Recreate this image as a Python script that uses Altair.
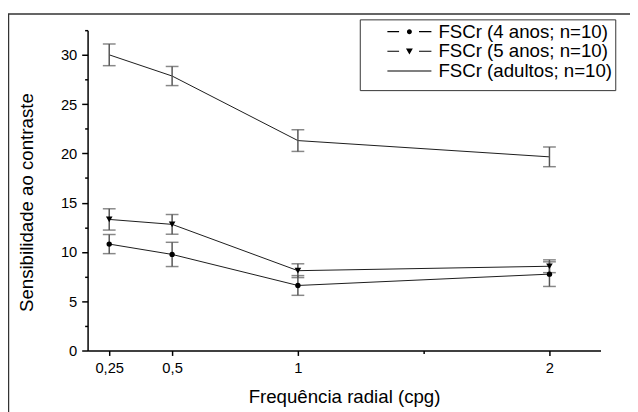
import altair as alt
import pandas as pd

freq = [0.25, 0.5, 1, 2]
series_names = ["FSCr (4 anos; n=10)", "FSCr (5 anos; n=10)", "FSCr (adultos; n=10)"]
mean_4 = [10.8, 9.75, 6.6, 7.75]
err_4 = [0.97, 1.23, 1.0, 1.25]
mean_5 = [13.3, 12.8, 8.1, 8.55]
err_5 = [1.08, 1.0, 0.7, 0.65]
mean_ad = [30.0, 27.85, 21.3, 19.65]
err_ad = [1.1, 0.97, 1.1, 1.0]

x_ticks = [0.25, 0.5, 1, 2]
x_minor = [1.5]
y_ticks = [0, 5, 10, 15, 20, 25, 30]
y_minor = [2.5, 7.5, 12.5, 17.5, 22.5, 27.5, 32.5]

rows = []
for name, means, errs in zip(series_names, [mean_4, mean_5, mean_ad], [err_4, err_5, err_ad]):
    for f, m, e in zip(freq, means, errs):
        rows.append({"series": name, "freq": f, "mean": m, "lo": m - e, "hi": m + e})
df = pd.DataFrame(rows)

FONT = "Liberation Sans"
xscale = alt.Scale(domain=[0.164, 2.203], nice=False, zero=False)
yscale = alt.Scale(domain=[0, 32.5], nice=False, zero=False)

base = alt.Chart(df)

frame = alt.Chart(pd.DataFrame({"a": [0]})).mark_rect(
    fillOpacity=0, stroke="#333333", strokeWidth=1.5
).encode(x=alt.value(-80.5), x2=alt.value(560), y=alt.value(-16.5), y2=alt.value(400))

lines = base.mark_line(color="#1a1a1a", strokeWidth=1).encode(
    x=alt.X("freq:Q", scale=xscale, axis=alt.Axis(
        values=x_ticks, orient="bottom", grid=False,
        labelExpr="replace(toString(datum.value), '.', ',')",
        title="Frequência radial (cpg)", tickSize=5, labelPadding=5,
        labelFontSize=15, titleFontSize=19, titleFontWeight="normal",
        titleX=261, titleY=53, titleBaseline="alphabetic", titleAlign="center",
    )),
    y=alt.Y("mean:Q", scale=yscale, axis=alt.Axis(
        values=y_ticks, orient="left", grid=False,
        title="Sensibilidade ao contraste", tickSize=6, labelPadding=5,
        labelFontSize=15, titleFontSize=19, titleFontWeight="normal",
        titleX=-56, titleY=175, titleBaseline="alphabetic", titleAlign="center",
        titleAngle=270,
    )),
    detail="series:N",
)

minor = base.mark_rule(color="#555555", strokeWidth=1.5).encode(
    x=alt.X("freq:Q", scale=xscale, axis=alt.Axis(
        values=x_minor, orient="bottom", labels=False, domain=False, grid=False,
        title="", tickSize=3,
    )),
    y=alt.Y("lo:Q", scale=yscale, axis=alt.Axis(
        values=y_minor, orient="left", labels=False, domain=False, grid=False,
        title="", tickSize=3,
    )),
    y2="hi:Q",
)

cap_lo = base.mark_tick(orient="horizontal", size=13, thickness=1.5, color="#555555").encode(
    x=alt.X("freq:Q", scale=xscale, axis=None),
    y=alt.Y("lo:Q", scale=yscale, axis=None),
)
cap_hi = base.mark_tick(orient="horizontal", size=13, thickness=1.5, color="#555555").encode(
    x=alt.X("freq:Q", scale=xscale, axis=None),
    y=alt.Y("hi:Q", scale=yscale, axis=None),
)

dots = base.transform_filter(alt.datum.series == series_names[0]).mark_point(
    shape="circle", filled=True, size=30, color="black", opacity=1
).encode(
    x=alt.X("freq:Q", scale=xscale, axis=None),
    y=alt.Y("mean:Q", scale=yscale, axis=None),
)
tris = base.transform_filter(alt.datum.series == series_names[1]).mark_point(
    shape="triangle-down", filled=True, size=45, color="black", opacity=1
).encode(
    x=alt.X("freq:Q", scale=xscale, axis=None),
    y=alt.Y("mean:Q", scale=yscale, axis=None),
)

# legend symbols built only from filled sub-paths (thin rectangles for the line pieces)
seg_l = "M-3.2,-0.08H-1.5V0.08H-3.2Z"
seg_r = "M1.4,-0.08H3.2V0.08H1.4Z"
p4 = seg_l + seg_r + "M-0.36,0A0.36,0.36,0,1,0,0.36,0A0.36,0.36,0,1,0,-0.36,0Z"
p5 = seg_l + seg_r + "M-0.5,-0.4L0.5,-0.4L0,0.45Z"
pa = "M-3.2,-0.08H3.2V0.08H-3.2Z"

legend_layer = base.mark_point(
    filled=True, opacity=0, size=196, color="black"
).encode(
    x=alt.X("freq:Q", scale=xscale, axis=None),
    y=alt.Y("mean:Q", scale=yscale, axis=None),
    shape=alt.Shape("series:N", scale=alt.Scale(domain=series_names, range=[p4, p5, pa]),
                    legend=alt.Legend(
                        title=" ", titleOrient="bottom", titleFontSize=6, titlePadding=0,
                        orient="none", legendX=277, legendY=-11,
                        symbolSize=196, symbolOpacity=1, symbolFillColor="black",
                        symbolOffset=38, labelOffset=20,
                        labelFont=FONT, labelFontSize=19, labelColor="black",
                        padding=3, rowPadding=-2, strokeColor="#333333",
                        fillColor="white", labelLimit=400,
                    )),
)

chart = alt.layer(frame, lines, minor, cap_lo, cap_hi, dots, tris, legend_layer).resolve_axis(
    x="independent", y="independent"
).properties(
    width=522, height=326,
    autosize=alt.AutoSizeParams(type="none"),
    padding={"left": 81, "top": 19, "right": 30, "bottom": 60},
).configure_axis(
    labelFont=FONT, titleFont=FONT, labelColor="black", titleColor="black",
    domainColor="black", tickColor="black", domainWidth=1.5, tickWidth=1.5,
).configure_view(strokeWidth=0)

chart.save("out.html", embed_options={"renderer": "svg", "actions": False})
